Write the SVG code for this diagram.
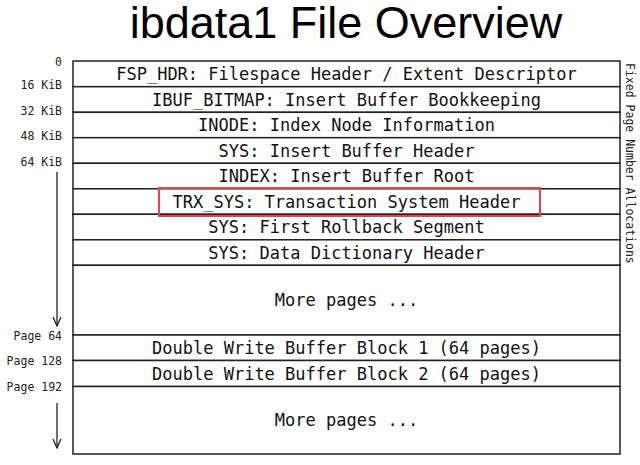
<svg xmlns="http://www.w3.org/2000/svg" width="640" height="465" viewBox="0 0 640 465">
<style>
.row{fill:#fff;stroke:#222;stroke-width:1.5}
.rt{font-family:"DejaVu Sans Mono",monospace;font-size:17px;fill:#111;text-anchor:middle}
.lbl{font-family:"DejaVu Sans Mono",monospace;font-size:11.5px;fill:#222;text-anchor:end}
.title{font-family:"Liberation Sans",Arial,sans-serif;font-size:45px;fill:#000;text-anchor:middle}
.side{font-family:"DejaVu Sans Mono",monospace;font-size:11.5px;fill:#222}
.arr{stroke:#222;stroke-width:1.3;fill:none}
</style>
<defs>
<marker id="ah" markerWidth="10" markerHeight="12" refX="9" refY="6" orient="auto" markerUnits="userSpaceOnUse">
<path d="M0,2 L9,6 L0,10" fill="none" stroke="#222" stroke-width="1.3"/>
</marker>
</defs>
<rect width="640" height="465" fill="#fff"/>
<text class="title" x="346" y="38">ibdata1 File Overview</text>

<g id="fsp_hdr"><rect class="row" x="73" y="61" width="547" height="25.7"/><text class="rt" x="346.5" y="80">FSP_HDR: Filespace Header / Extent Descriptor</text></g>
<g id="ibuf_bitmap"><rect class="row" x="73" y="86.7" width="547" height="25.6"/><text class="rt" x="346.5" y="105.5">IBUF_BITMAP: Insert Buffer Bookkeeping</text></g>
<g id="inode"><rect class="row" x="73" y="112.3" width="547" height="25.4"/><text class="rt" x="346.5" y="131">INODE: Index Node Information</text></g>
<g id="sys_ibuf_header"><rect class="row" x="73" y="137.7" width="547" height="25.6"/><text class="rt" x="346.5" y="156.5">SYS: Insert Buffer Header</text></g>
<g id="index_ibuf_root"><rect class="row" x="73" y="163.3" width="547" height="25.5"/><text class="rt" x="346.5" y="182">INDEX: Insert Buffer Root</text></g>
<g id="trx_sys"><rect class="row" x="73" y="188.8" width="547" height="25.5"/><text class="rt" x="346.5" y="207.5">TRX_SYS: Transaction System Header</text></g>
<g id="sys_rollback"><rect class="row" x="73" y="214.3" width="547" height="25.5"/><text class="rt" x="346.5" y="233">SYS: First Rollback Segment</text></g>
<g id="sys_dict"><rect class="row" x="73" y="239.8" width="547" height="25.5"/><text class="rt" x="346.5" y="258.5">SYS: Data Dictionary Header</text></g>
<g id="more_pages_1"><rect class="row" x="73" y="265.3" width="547" height="69.7"/><text class="rt" x="346.5" y="306">More pages ...</text></g>
<g id="dwb_block1"><rect class="row" x="73" y="335" width="547" height="25.5"/><text class="rt" x="346.5" y="354">Double Write Buffer Block 1 (64 pages)</text></g>
<g id="dwb_block2"><rect class="row" x="73" y="360.5" width="547" height="26"/><text class="rt" x="346.5" y="379.5">Double Write Buffer Block 2 (64 pages)</text></g>
<g id="more_pages_2"><rect class="row" x="73" y="386.5" width="547" height="67.5"/><text class="rt" x="346.5" y="426">More pages ...</text></g>

<rect id="highlight" x="159" y="188" width="381" height="28" fill="none" stroke="#e0474c" stroke-width="2"/>

<g id="offset_labels">
<text class="lbl" x="62" y="66">0</text>
<text class="lbl" x="62" y="89">16 KiB</text>
<text class="lbl" x="62" y="115">32 KiB</text>
<text class="lbl" x="62" y="140">48 KiB</text>
<text class="lbl" x="62" y="166">64 KiB</text>
<text class="lbl" x="62" y="340">Page 64</text>
<text class="lbl" x="62" y="365">Page 128</text>
<text class="lbl" x="62" y="391">Page 192</text>
</g>

<text class="side" transform="translate(626,63) rotate(90)">Fixed Page Number Allocations</text>

<g id="connectors">
<line class="arr" x1="57" y1="172" x2="57" y2="326" marker-end="url(#ah)"/>
<line class="arr" x1="57" y1="403" x2="57" y2="448" marker-end="url(#ah)"/>
</g>
</svg>
